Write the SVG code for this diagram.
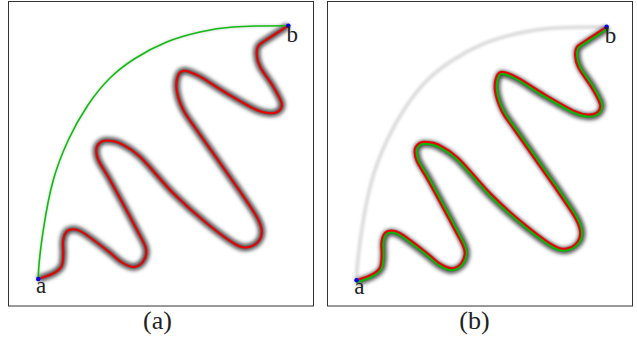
<svg xmlns="http://www.w3.org/2000/svg" xmlns:xlink="http://www.w3.org/1999/xlink" width="637" height="338" viewBox="0 0 637 338">
<style>
.frame{fill:#fff;stroke:#333;stroke-width:1}
.lbl{font-family:"Liberation Serif","DejaVu Serif",serif;font-size:23px;fill:#222}
.cap{font-family:"Liberation Serif","DejaVu Serif",serif;font-size:26px;fill:#222;text-anchor:middle}
.halo{fill:none;stroke:#111;stroke-width:6;stroke-opacity:0.85;filter:url(#blur)}
.red{fill:none;stroke:#ee0000;stroke-width:2;stroke-linejoin:round;stroke-linecap:round}
.grn{fill:none;stroke:#00bb00;stroke-width:2.1;stroke-linejoin:round;stroke-linecap:round}
.arc{fill:none;stroke:#11bb11;stroke-width:1.6}
.archalo{fill:none;stroke:#888;stroke-width:3;stroke-opacity:0.25;filter:url(#blur1)}
.ghost{fill:none;stroke:#d6d6d6;stroke-width:4;stroke-opacity:0.8;filter:url(#blur1)}
.pt{fill:#0000ee}
</style>
<defs>
<filter id="blur" x="-10%" y="-10%" width="120%" height="120%"><feGaussianBlur stdDeviation="2"/></filter>
<filter id="blur1" x="-10%" y="-10%" width="120%" height="120%"><feGaussianBlur stdDeviation="1.2"/></filter>
<path id="wig" d="M38.3,279 C43.2,277.2 49.13,275.58 53,273.5 C56.87,271.42 59.78,269.75 61.5,266.5 C63.22,263.25 63.05,258.08 63.3,254 C63.55,249.92 62.63,245.5 63,242 C63.37,238.5 64.08,235.08 65.5,233 C66.92,230.92 68.75,229.67 71.5,229.5 C74.25,229.33 76.13,228.58 82,232 C87.87,235.42 100.03,244.92 106.7,250 C113.37,255.08 117.45,259.67 122,262.5 C126.55,265.33 130.42,267.25 134,267 C137.58,266.75 141.5,264 143.5,261 C145.5,258 147.08,254.17 146,249 C144.92,243.83 143,241.5 137,230 C131,218.5 116.45,191.67 110,180 C103.55,168.33 100.55,165.33 98.3,160 C96.05,154.67 95.97,151.05 96.5,148 C97.03,144.95 99.53,142.92 101.5,141.7 C103.47,140.48 105.22,140.43 108.3,140.7 C111.38,140.97 114.72,140.63 120,143.3 C125.28,145.97 131.12,148.37 140,156.7 C148.88,165.03 162.18,182.2 173.3,193.3 C184.42,204.4 196.13,214.68 206.7,223.3 C217.27,231.92 229.48,241.1 236.7,245 C243.92,248.9 246.2,247.53 250,246.7 C253.8,245.87 257.55,242.78 259.5,240 C261.45,237.22 262.17,233.88 261.7,230 C261.23,226.12 260.87,223.92 256.7,216.7 C252.53,209.48 246.7,201.15 236.7,186.7 C226.7,172.25 205.6,142.78 196.7,130 C187.8,117.22 186.63,116.67 183.3,110 C179.97,103.33 177.53,95.83 176.7,90 C175.87,84.17 176.92,78.22 178.3,75 C179.68,71.78 181.38,70.42 185,70.7 C188.62,70.98 193.05,72.93 200,76.7 C206.95,80.47 217.25,87.75 226.7,93.3 C236.15,98.85 249.48,106.67 256.7,110 C263.92,113.33 266.28,113.13 270,113.3 C273.72,113.47 277.05,112.67 279,111 C280.95,109.33 282.65,107.35 281.7,103.3 C280.75,99.25 276.92,92.8 273.3,86.7 C269.68,80.6 262.77,72.15 260,66.7 C257.23,61.25 256.78,57.7 256.7,54 C256.62,50.3 256.9,46.8 259.5,44.5 C262.1,42.2 278.7,32 288.3,25.7"/>
<path id="wigoff" d="M38.99,280.88 C43.89,279.08 50.08,277.34 53.95,275.26 C57.82,273.18 61.55,270.68 63.27,267.43 C64.99,264.18 65.05,258.2 65.3,254.12 C65.55,250.04 64.62,245.71 64.99,242.21 C65.36,238.71 65.73,236.21 67.15,234.13 C68.57,232.05 68.87,231.67 71.62,231.5 C74.37,231.33 75.12,230.31 80.99,233.73 C86.86,237.15 98.82,246.51 105.49,251.59 C112.16,256.67 116.39,261.37 120.94,264.2 C125.49,267.03 130.56,269.24 134.14,268.99 C137.72,268.74 143.16,265.11 145.16,262.11 C147.16,259.11 149.04,253.76 147.96,248.59 C146.88,243.42 144.77,240.57 138.77,229.07 C132.77,217.57 118.2,190.7 111.75,179.03 C105.3,167.36 102.39,164.55 100.14,159.22 C97.89,153.89 97.94,151.39 98.47,148.34 C99,145.29 100.58,144.62 102.55,143.4 C104.52,142.18 105.05,142.42 108.13,142.69 C111.21,142.96 113.82,142.41 119.1,145.08 C124.38,147.75 129.75,149.83 138.63,158.16 C147.51,166.49 160.77,183.62 171.89,194.72 C183.01,205.82 194.87,216.23 205.44,224.85 C216.01,233.47 228.53,242.86 235.75,246.76 C242.97,250.66 246.63,249.48 250.43,248.65 C254.23,247.82 259.19,243.93 261.14,241.15 C263.09,238.37 264.15,233.64 263.68,229.76 C263.21,225.88 262.6,222.92 258.43,215.7 C254.26,208.48 248.34,200.01 238.34,185.56 C228.34,171.11 207.24,141.64 198.34,128.86 C189.44,116.08 188.42,115.78 185.09,109.11 C181.76,102.44 179.51,95.55 178.68,89.72 C177.85,83.89 178.76,79.01 180.14,75.79 C181.52,72.57 181.23,72.41 184.85,72.69 C188.47,72.97 192.1,74.69 199.05,78.46 C206,82.23 216.24,89.47 225.69,95.02 C235.14,100.57 248.64,108.49 255.86,111.82 C263.08,115.15 266.19,115.13 269.91,115.3 C273.63,115.47 278.35,114.19 280.3,112.52 C282.25,110.85 284.6,106.89 283.65,102.84 C282.7,98.79 278.64,91.78 275.02,85.68 C271.4,79.58 264.55,71.24 261.78,65.79 C259.01,60.34 258.78,57.66 258.7,53.96 C258.62,50.26 258.23,48.3 260.83,46 C263.43,43.7 279.79,33.67 289.39,27.37"/>
<path id="garc" d="M38.3,279 C38.3,263 40.8,246.5 43.3,230 C45.8,213.5 49.13,195 53.3,180 C57.47,165 62.52,152.5 68.3,140 C74.08,127.5 81.05,115.33 88,105 C94.95,94.67 102.17,85.75 110,78 C117.83,70.25 125.55,64.5 135,58.5 C144.45,52.5 155.87,46.42 166.7,42 C177.53,37.58 188.95,34.5 200,32 C211.05,29.5 218.28,28.05 233,27 C247.72,25.95 270.3,25.7 288.3,25.7"/>
</defs>
<g id="panel-a">
<rect class="frame" x="8.5" y="1.5" width="305" height="304.5"/>
<g id="connectors-a">
<use xlink:href="#garc" class="archalo"/>
<use xlink:href="#wig" class="halo"/>
<use xlink:href="#garc" class="arc"/>
<use xlink:href="#wig" class="red"/>
</g>
<g id="node-a1"><circle class="pt" cx="38.3" cy="279" r="2.3"/><text class="lbl" x="36" y="292.5">a</text></g>
<g id="node-b1"><circle class="pt" cx="288.3" cy="25.7" r="2.3"/><text class="lbl" x="286.5" y="41.5">b</text></g>
<text class="cap" x="157.5" y="329">(a)</text>
</g>
<g id="panel-b">
<rect class="frame" x="327.5" y="1.5" width="305" height="304.5"/>
<g transform="translate(318.3,1.2)">
<g id="connectors-b">
<use xlink:href="#garc" class="ghost"/>
<use xlink:href="#wigoff" class="halo"/>
<use xlink:href="#wigoff" class="grn"/>
<use xlink:href="#wig" class="red"/>
</g>
<g id="node-a2"><circle class="pt" cx="38.3" cy="279" r="2.3"/><text class="lbl" x="36" y="292.5">a</text></g>
<g id="node-b2"><circle class="pt" cx="288.3" cy="25.7" r="2.3"/><text class="lbl" x="286.5" y="41.5">b</text></g>
</g>
<text class="cap" x="474.5" y="329">(b)</text>
</g>
</svg>
